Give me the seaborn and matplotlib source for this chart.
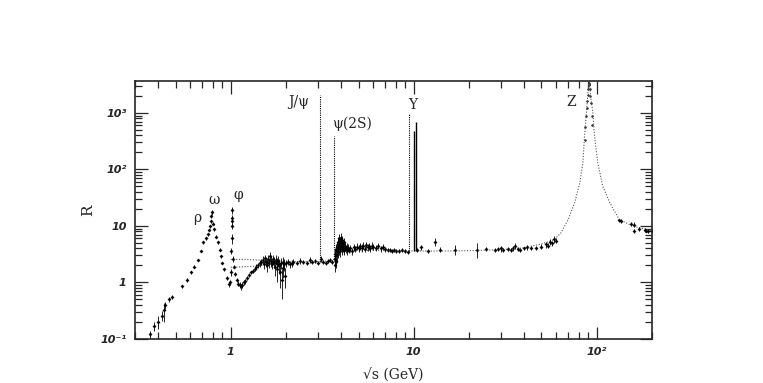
import numpy as np
import pandas as pd
import matplotlib
matplotlib.use("Agg")
import matplotlib.pyplot as plt
import seaborn as sns
from matplotlib.ticker import FixedLocator, FixedFormatter, LogLocator, NullFormatter

# low-energy region: rho / omega / phi
low_x = [0.36, 0.38, 0.40, 0.42, 0.43, 0.44, 0.46, 0.48, 0.54, 0.58, 0.61, 0.63,
         0.66, 0.69, 0.71, 0.73, 0.75, 0.76, 0.77, 0.78, 0.785, 0.79, 0.80, 0.81,
         0.83, 0.85, 0.87, 0.88, 0.90, 0.92, 0.95, 0.975, 0.99, 1.005, 1.01, 1.015,
         1.018, 1.019, 1.02, 1.022, 1.03]
low_R = [0.12, 0.17, 0.20, 0.26, 0.32, 0.40, 0.50, 0.56, 0.85, 1.1, 1.5, 1.9,
         2.5, 3.6, 5.1, 6.0, 7.1, 8.5, 9.9, 12, 15, 17.3, 11, 8.7,
         6.5, 5.1, 3.8, 2.9, 2.2, 1.7, 1.2, 0.92, 1.0, 1.5, 3.6, 6.0,
         10, 14, 19, 12, 2.6]
low_err = [0.02, 0.03, 0.05, 0.05, 0.12, 0.06, 0.05, 0.05, 0.05, 0.08, 0.1, 0.1,
           0.1, 0.2, 0.3, 0.3, 0.4, 0.5, 0.6, 0.8, 1.0, 1.5, 0.8, 0.5,
           0.3, 0.3, 0.2, 0.2, 0.1, 0.1, 0.1, 0.1, 0.1, 0.2, 0.4, 1.2,
           1.0, 1.5, 2.5, 1.5, 0.3]

# continuum below charm threshold
cont1_x = [1.04, 1.06, 1.08, 1.10, 1.12, 1.14, 1.16, 1.18, 1.20, 1.23, 1.26, 1.29,
           1.32, 1.35, 1.38, 1.41, 1.44, 1.47, 1.50, 1.52, 1.54, 1.56, 1.58, 1.60,
           1.62, 1.64, 1.66, 1.68, 1.70, 1.72, 1.74, 1.76, 1.78, 1.80, 1.82, 1.84,
           1.86, 1.88, 1.90, 1.92, 1.94, 1.96, 1.98, 2.00, 2.05, 2.10, 2.15, 2.2,
           2.3, 2.4, 2.5, 2.6, 2.7, 2.8, 2.9, 3.0, 3.1, 3.2, 3.3, 3.4, 3.5, 3.6]
cont1_R = [1.9, 1.4, 1.1, 0.95, 0.9, 0.85, 0.9, 1.0, 1.05, 1.2, 1.35, 1.5,
           1.6, 1.75, 1.9, 2.0, 2.2, 2.3, 2.5, 2.1, 2.7, 2.3, 2.0, 2.6,
           2.2, 2.9, 2.4, 2.1, 2.6, 2.3, 1.9, 2.5, 2.2, 1.7, 2.4, 2.0,
           1.5, 2.2, 1.1, 2.3, 1.8, 2.1, 1.3, 2.2, 2.3, 2.1, 2.2, 2.3,
           2.2, 2.4, 2.3, 2.2, 2.5, 2.3, 2.4, 2.2, 2.6, 2.3, 2.2, 2.4, 2.5, 2.3]
cont1_err = [0.1, 0.1, 0.1, 0.1, 0.1, 0.1, 0.1, 0.1, 0.1, 0.1, 0.1, 0.1,
             0.15, 0.15, 0.2, 0.2, 0.3, 0.3, 0.4, 0.4, 0.4, 0.4, 0.5, 0.5,
             0.4, 0.5, 0.5, 0.4, 0.5, 0.5, 0.6, 0.5, 0.5, 0.7, 0.5, 0.6,
             0.7, 0.5, 0.6, 0.5, 0.6, 0.5, 0.5, 0.3, 0.3, 0.3, 0.3, 0.3,
             0.2, 0.3, 0.2, 0.2, 0.3, 0.2, 0.2, 0.2, 0.3, 0.2, 0.2, 0.2, 0.2, 0.2]

# charm / bottom continuum
cont2_x = [3.70, 3.72, 3.74, 3.76, 3.78, 3.80, 3.82, 3.84, 3.86, 3.88, 3.90, 3.92,
           3.94, 3.96, 3.98, 4.00, 4.02, 4.04, 4.06, 4.08, 4.10, 4.12, 4.14, 4.16,
           4.18, 4.20, 4.25, 4.30, 4.35, 4.40, 4.45, 4.50, 4.6, 4.7, 4.8, 4.9,
           5.0, 5.1, 5.2, 5.3, 5.4, 5.5, 5.6, 5.7, 5.8, 5.9, 6.0, 6.2,
           6.4, 6.6, 6.8, 7.0, 7.2, 7.4, 7.6, 7.8, 8.0, 8.3, 8.6, 9.0, 9.3]
cont2_R = [2.6, 2.0, 3.2, 3.8, 2.4, 4.2, 3.0, 4.8, 3.5, 5.2, 4.0, 6.0,
           4.4, 5.5, 3.6, 6.2, 4.6, 5.0, 3.9, 5.6, 4.2, 4.8, 3.8, 5.1,
           4.0, 4.4, 3.9, 4.3, 3.7, 4.1, 3.8, 4.0, 3.6, 4.2, 3.9, 4.3,
           4.0, 4.4, 4.1, 4.5, 3.9, 4.6, 4.2, 4.4, 4.0, 4.5, 4.3, 4.1,
           4.4, 4.0, 4.3, 3.9, 3.7, 3.8, 3.6, 3.7, 3.6, 3.6, 3.7, 3.6, 3.5]
cont2_err = [0.6, 0.5, 0.8, 0.9, 0.6, 1.0, 0.8, 1.0, 0.8, 1.0, 0.9, 1.2,
             1.0, 1.0, 0.8, 1.2, 0.9, 1.0, 0.8, 1.0, 0.8, 0.9, 0.7, 0.9,
             0.7, 0.8, 0.6, 0.7, 0.6, 0.6, 0.5, 0.6, 0.5, 0.6, 0.5, 0.6,
             0.6, 0.6, 0.6, 0.6, 0.5, 0.6, 0.6, 0.6, 0.5, 0.6, 0.5, 0.5,
             0.5, 0.5, 0.5, 0.4, 0.3, 0.3, 0.3, 0.3, 0.3, 0.3, 0.3, 0.3, 0.3]

# PETRA / TRISTAN / LEP below the Z
cont3_x = [10.5, 11.0, 12.0, 13.1, 14.0, 16.8, 22.1, 25.0, 27.8, 29.0, 30.1, 31.0,
           32.7, 34.0, 35.0, 35.8, 37.0, 38.0, 40.0, 41.6, 44.0, 46.8, 50.0, 52.9,
           54.0, 55.5, 57.0, 58.9, 60.0]
cont3_R = [3.7, 4.2, 3.6, 5.2, 3.8, 3.8, 3.8, 3.9, 3.8, 3.9, 4.0, 3.8,
           3.9, 3.7, 4.0, 4.4, 3.9, 3.8, 4.0, 4.2, 4.1, 4.1, 4.3, 4.7,
           4.5, 5.2, 5.0, 5.8, 5.5]
cont3_err = [0.3, 0.4, 0.3, 0.8, 0.4, 0.8, 1.1, 0.3, 0.3, 0.3, 0.5, 0.3,
             0.3, 0.3, 0.4, 0.5, 0.3, 0.3, 0.3, 0.4, 0.3, 0.4, 0.4, 0.6,
             0.4, 0.6, 0.5, 0.8, 0.5]

# Z peak and above
z_x = [86.0, 87.0, 88.0, 88.5, 89.0, 89.5, 90.0, 90.5, 91.0, 91.2, 91.5, 92.0,
       92.5, 93.0, 94.0, 95.0]
z_R = [330, 560, 900, 1200, 1600, 2100, 2700, 3100, 3300, 3400, 3200, 2600,
       2000, 1500, 900, 600]
high_x = [133, 136, 155, 161, 161, 171, 183, 187, 192, 200]
high_R = [12.5, 12.2, 10.8, 10.6, 8.1, 8.7, 8.6, 8.3, 8.1, 8.0]
high_err = [0.8, 0.8, 0.9, 1.0, 0.6, 0.7, 0.7, 0.6, 0.5, 0.5]

# prediction curves (dotted)
curve_x = [1.0, 1.2, 1.4, 1.6, 1.8, 2.0, 2.5, 3.0, 3.5, 3.7, 3.8, 4.5, 6, 8, 10,
           15, 20, 30, 40, 50, 55, 59, 64, 70, 76, 81, 84.2, 86, 88, 89.5, 90.5,
           91.2, 92, 93, 95.5, 97.5, 101.6, 108, 118, 133, 158, 187, 200]
curve_R = [2.55, 2.55, 2.5, 2.45, 2.4, 2.35, 2.35, 2.35, 2.4, 2.6, 3.4, 3.6, 3.7,
           3.6, 3.6, 3.6, 3.65, 3.8, 4.1, 4.8, 5.3, 5.8, 7.6, 13, 26, 58, 130, 390,
           1000, 2000, 3000, 3500, 2800, 1900, 1000, 390, 130, 51, 26, 13, 9.9,
           8.7, 8.3]
curve2_x = [1.0, 1.2, 1.4, 1.6, 1.8]
curve2_R = [1.85, 1.9, 1.95, 2.1, 2.35]

# narrow resonances (lines)
narrow_x = [3.097, 3.686, 9.46]
narrow_top = [2100, 390, 940]
ups_x = [10.02, 10.35]
ups_top = [475, 680]

labels = [("ρ", 0.66, 14), ("ω", 0.81, 29), ("φ", 1.105, 36), ("J/ψ", 2.35, 1535),
          ("ψ(2S)", 4.62, 630), ("Υ", 9.94, 1360), ("Z", 73, 1535)]

y_ticks = [0.1, 1, 10, 100, 1000]
y_tick_labels = ["10⁻¹", "1", "10", "10²", "10³"]
x_ticks = [1, 10, 100]
x_tick_labels = ["1", "10", "10²"]

sns.set_style("ticks")
plt.rcParams["font.family"] = ["DejaVu Sans"]

fig = plt.figure(figsize=(7.63, 3.83), dpi=100)
ax = fig.add_axes([0.177, 0.115, 0.677, 0.674])
ax.set_xscale("log")
ax.set_yscale("log")

ax.plot(curve_x, curve_R, color="#555555", lw=0.8, ls=(0, (1, 1.5)))
ax.plot(curve2_x, curve2_R, color="#555555", lw=0.8, ls=(0, (1, 1.5)))

pts = pd.DataFrame({
    "x": low_x + cont1_x + cont2_x + cont3_x + high_x,
    "R": low_R + cont1_R + cont2_R + cont3_R + high_R,
    "err": low_err + cont1_err + cont2_err + cont3_err + high_err,
})
ax.errorbar(pts["x"], pts["R"], yerr=pts["err"], fmt="none", ecolor="black",
            elinewidth=0.6, capsize=0)
sns.scatterplot(data=pts, x="x", y="R", ax=ax, color="black", marker="D",
                s=3, edgecolor="black", linewidth=0.2, legend=False)
sns.scatterplot(x=z_x, y=z_R, ax=ax, color="#333333", marker="D", s=2,
                edgecolor="#333333", linewidth=0.2, legend=False)

ax.vlines(narrow_x, [2.3, 2.4, 3.6], narrow_top, colors="black", lw=0.8,
          linestyles=(0, (1, 1)))
ax.vlines(ups_x, [3.6, 3.6], ups_top, colors="black", lw=1.0)

for txt, tx, ty in labels:
    ax.text(tx, ty, txt, ha="center", va="center", fontsize=10,
            family="DejaVu Serif")

ax.set_xlim(0.3, 200)
ax.set_ylim(0.1, 3700)

ax.yaxis.set_major_locator(FixedLocator(y_ticks))
ax.yaxis.set_major_formatter(FixedFormatter(y_tick_labels))
ax.xaxis.set_major_locator(FixedLocator(x_ticks))
ax.xaxis.set_major_formatter(FixedFormatter(x_tick_labels))
ax.yaxis.set_minor_locator(LogLocator(base=10, subs=np.arange(2, 10), numticks=20))
ax.xaxis.set_minor_locator(LogLocator(base=10, subs=np.arange(2, 10), numticks=20))
ax.xaxis.set_minor_formatter(NullFormatter())
ax.yaxis.set_minor_formatter(NullFormatter())

ax.tick_params(which="both", direction="in", top=True, right=True, width=0.9)
ax.tick_params(which="major", length=9, pad=6)
ax.tick_params(which="minor", length=5)
for lab in ax.get_xticklabels() + ax.get_yticklabels():
    lab.set_fontsize(8)
    lab.set_fontweight("bold")
    lab.set_fontstyle("italic")
for sp in ax.spines.values():
    sp.set_linewidth(1.2)
    sp.set_visible(True)

ax.set_xlabel("√s (GeV)", fontsize=10, family="DejaVu Serif", labelpad=8)
ax.set_ylabel("R", fontsize=11, family="DejaVu Serif", labelpad=4)

fig.savefig("out.png", dpi=100)
